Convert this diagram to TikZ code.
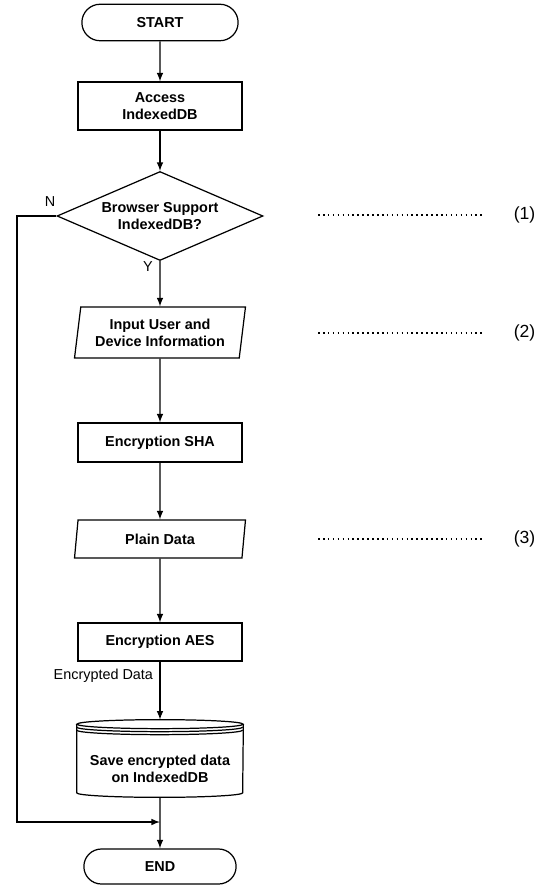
\documentclass[tikz,border=0pt]{standalone}
\usepackage{fontspec}
\setmainfont{Liberation Sans}
\usetikzlibrary{shapes.geometric,shapes.misc,calc}

\tikzset{
  base/.style={draw,line width=0.7pt,font=\bfseries\fontsize{8.2}{9.8}\selectfont,align=center},
  terminal/.style={base,rounded rectangle,minimum width=3.36cm,minimum height=0.73cm},
  process/.style={base,rectangle,minimum width=3.28cm},
  io/.style={base,trapezium,trapezium left angle=81,trapezium right angle=99,
    trapezium stretches body,minimum width=3.42cm},
  decision/.style={base,diamond,aspect=2.3,inner sep=0pt,minimum width=4.12cm,minimum height=1.78cm},
  store/.style={rectangle,minimum width=3.32cm,minimum height=1.54cm},
  flow/.style={-latex,line width=0.7pt},
  note/.style={font=\fontsize{8.2}{9.8}\selectfont},
  leader/.style={line width=0.9pt,dash pattern=on 0.9pt off 1.9pt}
}

\begin{document}
\begin{tikzpicture}[x=0.02cm,y=0.02cm]
  \useasboundingbox (0,0) rectangle (549,-885);

  \node[terminal] (start) at (160,-22.5) {START};
  \node[process,minimum height=0.96cm] (access) at (160,-106) {Access\\IndexedDB};
  \node[decision] (check) at (160,-216) {Browser Support\\IndexedDB?};
  \node[io,minimum height=1.02cm] (input) at (160,-332.5) {Input User and\\Device Information};
  \node[process,minimum height=0.78cm] (sha) at (160,-442.5) {Encryption SHA};
  \node[io,minimum height=0.76cm] (plain) at (160,-539) {Plain Data};
  \node[process,minimum height=0.76cm] (aes) at (160,-642) {Encryption AES};
  \node[store] (save) at (160,-758.5) {};
  \node[base,draw=none] (savetxt) at (160,-769) {Save encrypted data\\on IndexedDB};
  \node[terminal,minimum width=3.28cm,minimum height=0.7cm] (finish) at (160,-866.5) {END};

  % database drum
  \draw[line width=0.7pt] ($(save.north)+(0,-4.5)$) ellipse[x radius=83,y radius=4.5];
  \foreach \d in {3,6}
    \draw[line width=0.7pt] ($(save.north west)+(0,-4.5-\d)$) arc[start angle=180,end angle=360,x radius=83,y radius=4.5];
  \draw[line width=0.7pt] ($(save.north west)+(0,-4.5)$) -- ($(save.south west)+(0,4.5)$)
    arc[start angle=180,end angle=360,x radius=83,y radius=4.5] -- ($(save.north east)+(0,-4.5)$);

  \coordinate (merge) at (160,-822);

  \draw[flow] (start) -- (access);
  \draw[flow] (access) -- (check);
  \draw[flow] (check) -- (input);
  \draw[flow] (input) -- (sha);
  \draw[flow] (sha) -- (plain);
  \draw[flow] (plain) -- (aes);
  \draw[flow] (aes) -- node[note,left=0.3pt,pos=0.24] {Encrypted Data} (save);
  \draw[flow] (save) -- (finish);
  \draw[flow] (check.west) -- ++(-39.5,0) |- (merge);

  \node[note] (no) at (50,-202) {N};
  \node[note] (yes) at (148,-267) {Y};

  \foreach \y/\t in {215/1,333/2,539/3}{
    \coordinate (la\t) at (318,-\y);
    \coordinate (lb\t) at (485,-\y);
    \node[note,font=\fontsize{10}{12}\selectfont] (mark\t) at (524.5,-\y) {(\t)};
    \draw[leader] (la\t) -- (lb\t);
  }
\end{tikzpicture}
\end{document}
